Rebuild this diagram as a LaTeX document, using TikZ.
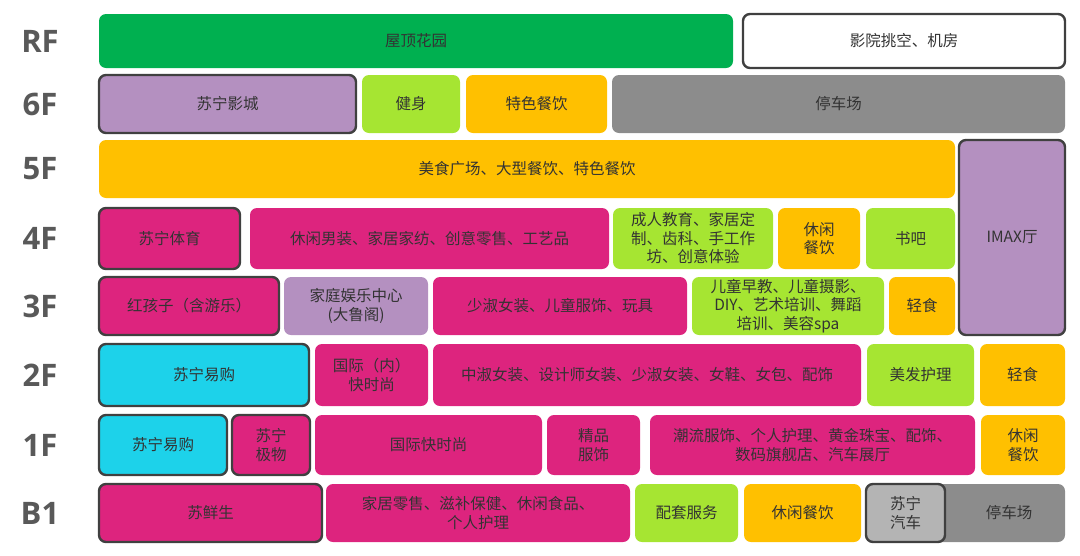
\documentclass[tikz,border=0pt]{standalone}
\usepackage{fontspec}
\newfontfamily\cjk{Noto Sans CJK SC}
\newfontfamily\floorfont{Open Sans}
\definecolor{mallgreen}{HTML}{00B050}
\definecolor{mallorange}{HTML}{FFC000}
\definecolor{malllime}{HTML}{A6E532}
\definecolor{mallpink}{HTML}{DD247E}
\definecolor{mallviolet}{HTML}{B490C0}
\definecolor{mallcyan}{HTML}{1DD2EA}
\definecolor{parkgray}{HTML}{8C8C8C}
\definecolor{autogray}{HTML}{B4B4B4}
\definecolor{edgegray}{HTML}{404040}
\definecolor{labelgray}{HTML}{595959}

\begin{document}
\begin{tikzpicture}[x=1pt,y=-1pt,
    shop/.style={rounded corners=7pt, inner sep=1pt, align=center, text=black!80,
      font=\cjk\fontsize{15.5}{18.5}\selectfont},
    ring/.style={draw=edgegray, line width=2.4pt},
    cell/.style n args={4}{at={({(#1+#2)/2},{(#3+#4)/2})},
      minimum width={(#2-#1)*1pt}, minimum height={(#4-#3)*1pt}},
    floor/.style={font=\floorfont\bfseries\fontsize{31}{31}\selectfont, text=labelgray}]
  \useasboundingbox (0,0) rectangle (1080,555);

  % floor names
  \foreach \f/\y in {RF/41, 6F/104, 5F/169, 4F/238, 3F/306, 2F/375, 1F/445, B1/513}
    \node[floor] (floor\f) at (40,\y) {\f};

  % RF
  \node[shop, fill=mallgreen, cell={99}{733}{14}{68}] (garden) {屋顶花园};
  \node[shop, ring, fill=white, cell={743}{1065}{14}{68}] (machine) {影院挑空、机房};
  % 6F
  \node[shop, ring, fill=mallviolet, cell={99}{356}{75}{133}] (cinema) {苏宁影城};
  \node[shop, fill=malllime, cell={362}{460}{75}{133}] (gym) {健身};
  \node[shop, fill=mallorange, cell={466}{607}{75}{133}] (dining6) {特色餐饮};
  \node[shop, fill=parkgray, cell={612}{1065}{75}{133}] (park6) {停车场};
  % 5F
  \node[shop, fill=mallorange, cell={99}{955}{140}{198}] (food5) {美食广场、大型餐饮、特色餐饮};
  \node[shop, ring, fill=mallviolet, cell={959}{1065}{140}{335}] (imax) {IMAX厅};
  % 4F
  \node[shop, ring, fill=mallpink, cell={99}{240}{208}{269}] (sports) {苏宁体育};
  \node[shop, fill=mallpink, cell={250}{609}{208}{269}] (menwear) {休闲男装、家居家纺、创意零售、工艺品};
  \node[shop, fill=malllime, cell={613}{773}{208}{269}] (adultedu) {成人教育、家居定\\制、齿科、手工作\\坊、创意体验};
  \node[shop, fill=mallorange, cell={778}{860}{208}{269}] (snack4) {休闲\\餐饮};
  \node[shop, fill=malllime, cell={866}{955}{208}{269}] (books) {书吧};
  % 3F
  \node[shop, ring, fill=mallpink, cell={99}{279}{277}{335}] (kids) {红孩子（含游乐）};
  \node[shop, fill=mallviolet, cell={284}{428}{277}{335}] (family) {家庭娱乐中心\\(大鲁阁)};
  \node[shop, fill=mallpink, cell={433}{687}{277}{335}] (youth) {少淑女装、儿童服饰、玩具};
  \node[shop, fill=malllime, cell={692}{884}{277}{335}] (kidsedu) {儿童早教、儿童摄影、\\DIY、艺术培训、舞蹈\\培训、美容spa};
  \node[shop, fill=mallorange, cell={889}{955}{277}{335}] (light3) {轻食};
  % 2F
  \node[shop, ring, fill=mallcyan, cell={99}{309}{344}{406}] (suning2) {苏宁易购};
  \node[shop, fill=mallpink, cell={315}{428}{344}{406}] (fast2) {国际（内）\\快时尚};
  \node[shop, fill=mallpink, cell={433}{861}{344}{406}] (women) {中淑女装、设计师女装、少淑女装、女鞋、女包、配饰};
  \node[shop, fill=malllime, cell={867}{974}{344}{406}] (hair) {美发护理};
  \node[shop, fill=mallorange, cell={980}{1065}{344}{406}] (light2) {轻食};
  % 1F
  \node[shop, ring, fill=mallcyan, cell={99}{227}{415}{475}] (suning1) {苏宁易购};
  \node[shop, ring, fill=mallpink, cell={232}{310}{415}{475}] (jiwu) {苏宁\\极物};
  \node[shop, fill=mallpink, cell={315}{542}{415}{475}] (fast1) {国际快时尚};
  \node[shop, fill=mallpink, cell={547}{640}{415}{475}] (boutique) {精品\\服饰};
  \node[shop, fill=mallpink, cell={650}{975}{415}{475}] (trend) {潮流服饰、个人护理、黄金珠宝、配饰、\\数码旗舰店、汽车展厅};
  \node[shop, fill=mallorange, cell={981}{1065}{415}{475}] (snack1) {休闲\\餐饮};
  % B1
  \node[shop, ring, fill=mallpink, cell={99}{322}{484}{542}] (fresh) {苏鲜生};
  \node[shop, fill=mallpink, cell={326}{630}{484}{542}] (homegoods) {家居零售、滋补保健、休闲食品、\\个人护理};
  \node[shop, fill=malllime, cell={635}{738}{484}{542}] (service) {配套服务};
  \node[shop, fill=mallorange, cell={744}{861}{484}{542}] (snackb) {休闲餐饮};
  \node[shop, fill=parkgray, cell={866}{1065}{484}{542}] (parkb) {};
  \node[shop, ring, fill=autogray, cell={866}{945}{484}{542}] (auto) {苏宁\\汽车};
  \node[shop] (parkbtext) at (1009,513) {停车场};
\end{tikzpicture}
\end{document}
